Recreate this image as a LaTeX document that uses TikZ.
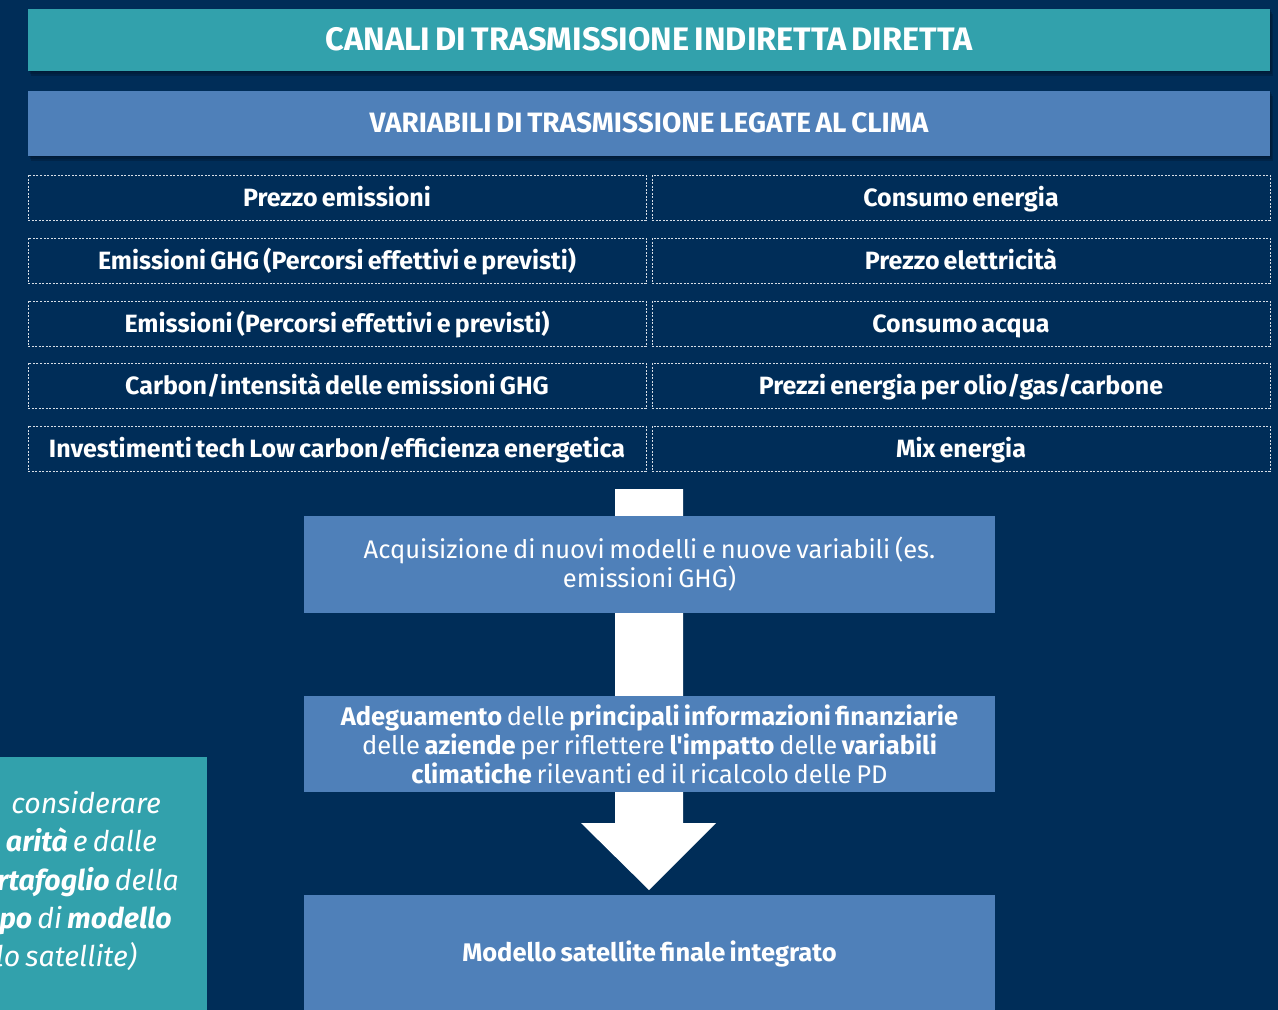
\documentclass[tikz,border=0pt]{standalone}
\usepackage{fontspec}
\setmainfont{Fira Sans}[WordSpace=0.7, Ligatures=TeXOff]
\definecolor{bgnavy}{RGB}{0,45,88}
\definecolor{tealbar}{RGB}{50,161,172}
\definecolor{bluebar}{RGB}{79,128,185}
\definecolor{shadowc}{RGB}{0,22,45}
\definecolor{dashc}{RGB}{215,222,230}
\tikzset{
  bar/.style={fill=#1, minimum width=1242pt, inner sep=0pt, outer sep=0pt, text=white, font=\bfseries},
  varbox/.style={draw=dashc, dash pattern=on 2pt off 1.5pt, line width=0.8pt, minimum width=618pt, minimum height=45pt, inner sep=0pt, text height=22pt, text depth=5pt, text=white, font=\fontsize{25}{29}\selectfont\bfseries},
  flowbox/.style={fill=bluebar, minimum width=691pt, inner sep=0pt, outer sep=0pt, text=white, align=center, font=\fontsize{25.5}{29}\selectfont},
  noteline/.style={anchor=base east, inner sep=0pt, text=white, font=\fontsize{28.5}{34}\selectfont\itshape},
  shadowbox/.style={fill=shadowc, opacity=0.35}
}
\begin{document}
\begin{tikzpicture}[x=1pt,y=-1pt]
\useasboundingbox (0,0) rectangle (1278,1010);
\clip (0,0) rectangle (1278,1010);
\fill[bgnavy] (0,0) rectangle (1278,1010);

% shadows of the two header bars
\foreach \d in {2,4,6} {
  \fill[shadowbox] (28+\d/2,8+\d) rectangle (1270+\d/2,70+\d);
  \fill[shadowbox] (28+\d/2,90+\d) rectangle (1270+\d/2,155+\d);
}

\node[bar=tealbar, minimum height=62pt, font=\fontsize{32.5}{36}\selectfont\bfseries] (title) at (649,39.5) {CANALI DI TRASMISSIONE INDIRETTA DIRETTA};
\node[bar=bluebar, minimum height=65pt, font=\fontsize{28}{32}\selectfont\bfseries] (sub) at (649,123) {VARIABILI DI TRASMISSIONE LEGATE AL CLIMA};

% variable boxes
\node[varbox] (l1) at (337,197.5) {Prezzo emissioni};
\node[varbox] (l2) at (337,260.5) {Emissioni GHG (Percorsi effettivi e previsti)};
\node[varbox] (l3) at (337,323.5) {Emissioni (Percorsi effettivi e previsti)};
\node[varbox] (l4) at (337,385.5) {Carbon/intensità delle emissioni GHG};
\node[varbox] (l5) at (337,448.5) {Investimenti tech Low carbon/efficienza energetica};
\node[varbox] (r1) at (961,197.5) {Consumo energia};
\node[varbox] (r2) at (961,260.5) {Prezzo elettricità};
\node[varbox] (r3) at (961,323.5) {Consumo acqua};
\node[varbox] (r4) at (961,385.5) {Prezzi energia per olio/gas/carbone};
\node[varbox] (r5) at (961,448.5) {Mix energia};

% big white arrow (behind the flow boxes)
\coordinate (astart) at (649,489);
\coordinate (atip) at (649,890);
\fill[white] ([xshift=-34pt]astart) -- ([xshift=34pt]astart) -- (683,823) -- (716,823) -- (atip) -- (581,823) -- (615,823) -- cycle;

% flow boxes
\node[flowbox, minimum height=97pt] (acq) at (649.5,564.5) {Acquisizione di nuovi modelli e nuove variabili (es.\\ emissioni GHG)};
\node[flowbox, minimum height=96pt] (adeg) at (649.5,744) {\textbf{Adeguamento} delle \textbf{principali informazioni finanziarie}\\ delle \textbf{aziende} per riflettere \textbf{l'impatto} delle \textbf{variabili}\\ \textbf{climatiche} rilevanti ed il ricalcolo delle PD};
\node[flowbox, minimum height=130pt, anchor=north] (fin) at (649.5,895) {};
\node[inner sep=0pt, text=white, font=\fontsize{25.5}{29}\selectfont\bfseries] (fintext) at (649.5,953.5) {Modello satellite finale integrato};

% left note box (cut off at the picture's left edge, as in the reference)
\node[fill=tealbar, minimum width=207pt, minimum height=253pt, anchor=north west, inner sep=0pt] (note) at (0,757) {};
\node[noteline] (n1) at (161,813) {considerare};
\node[noteline] (n2) at (157,851) {\textbf{arità} e dalle};
\node[noteline] (n3) at (179,890) {\textbf{rtafoglio} della};
\node[noteline] (n4) at (172,928) {\textbf{po} di \textbf{modello}};
\node[noteline] (n5) at (137,966) {lo satellite)};
\end{tikzpicture}
\end{document}
